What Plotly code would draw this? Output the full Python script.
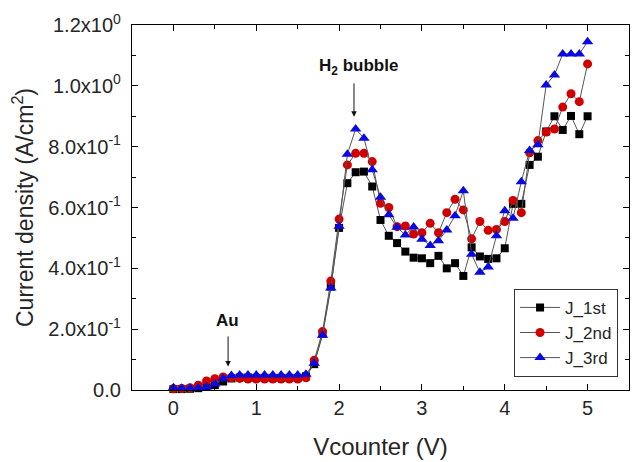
import plotly.graph_objects as go

# Counter-electrode voltage sweep, 0 to 5 V in 0.1 V steps
vcounter = [round(0.1 * i, 1) for i in range(51)]

j_1st = [0.003, 0.003, 0.004, 0.006, 0.010, 0.016, 0.028, 0.038, 0.041, 0.041,
         0.040, 0.040, 0.040, 0.040, 0.040, 0.040, 0.045, 0.085, 0.185, 0.340,
         0.533, 0.680, 0.716, 0.718, 0.669, 0.559, 0.507, 0.483, 0.455, 0.435,
         0.433, 0.417, 0.441, 0.400, 0.417, 0.375, 0.469, 0.439, 0.431, 0.433,
         0.466, 0.612, 0.612, 0.740, 0.767, 0.850, 0.900, 0.855, 0.901, 0.841,
         0.900]

j_2nd = [0.004, 0.005, 0.007, 0.016, 0.030, 0.037, 0.043, 0.040, 0.038, 0.036,
         0.036, 0.036, 0.036, 0.036, 0.036, 0.036, 0.040, 0.098, 0.192, 0.358,
         0.562, 0.740, 0.778, 0.778, 0.751, 0.614, 0.600, 0.537, 0.539, 0.513,
         0.517, 0.548, 0.517, 0.583, 0.627, 0.592, 0.497, 0.554, 0.525, 0.528,
         0.554, 0.623, 0.583, 0.780, 0.820, 0.848, 0.858, 0.930, 0.974, 0.948,
         1.072]

j_3rd = [0.007, 0.006, 0.006, 0.007, 0.010, 0.020, 0.038, 0.048, 0.049, 0.049,
         0.049, 0.049, 0.049, 0.049, 0.049, 0.049, 0.052, 0.088, 0.180, 0.335,
         0.538, 0.775, 0.858, 0.828, 0.724, 0.634, 0.576, 0.535, 0.510, 0.536,
         0.496, 0.475, 0.491, 0.526, 0.573, 0.655, 0.446, 0.387, 0.404, 0.507,
         0.589, 0.565, 0.685, 0.787, 0.806, 1.003, 1.036, 1.105, 1.105, 1.105,
         1.145]

y_tickvals = [0.0, 0.2, 0.4, 0.6, 0.8, 1.0, 1.2]
y_ticktext = ["0.0", "2.0x10<sup>-1</sup>", "4.0x10<sup>-1</sup>", "6.0x10<sup>-1</sup>",
              "8.0x10<sup>-1</sup>", "1.0x10<sup>0</sup>", "1.2x10<sup>0</sup>"]

FONT = "Liberation Sans, Arial, sans-serif"
TEXT = "#262626"

series = [
    ("J_1st", j_1st, "square", "#000000", 8),
    ("J_2nd", j_2nd, "circle", "#d10000", 9),
    ("J_3rd", j_3rd, "triangle-up", "#0a0ae0", 10),
]

fig = go.Figure()
for name, vals, symbol, color, size in series:
    fig.add_trace(go.Scatter(
        x=vcounter, y=vals, name=name, mode="lines+markers",
        line=dict(color="#555555", width=1),
        marker=dict(symbol=symbol, color=color, size=size, line=dict(width=0)),
        cliponaxis=False,
    ))

axis_common = dict(
    showline=True, linecolor="#000000", linewidth=1.3, mirror="ticks",
    ticks="inside", ticklen=6, tickwidth=1.2, tickcolor="#000000",
    showgrid=False, zeroline=False,
    tickfont=dict(family=FONT, size=20, color=TEXT),
)

fig.update_xaxes(
    range=[-0.5, 5.5], tickmode="linear", tick0=0, dtick=1,
    minor=dict(ticks="inside", ticklen=4, tickcolor="#000000", tick0=0, dtick=0.5),
    title=dict(text="Vcounter (V)", font=dict(family=FONT, size=24, color=TEXT),
               standoff=20),
    **axis_common,
)
fig.update_yaxes(
    range=[0, 1.2], tickmode="array", tickvals=y_tickvals, ticktext=y_ticktext,
    ticklabelstandoff=6,
    minor=dict(ticks="inside", ticklen=4, tickcolor="#000000", tickmode="linear",
               tick0=0, dtick=0.1),
    title=dict(text="Current density (A/cm<sup>2</sup>)",
               font=dict(family=FONT, size=23, color=TEXT), standoff=8),
    **axis_common,
)

# Labelled features with downward arrows
fig.add_annotation(x=2.18, y=0.898, ax=2.18, ay=1.013, axref="x", ayref="y",
                   text="", showarrow=True, arrowhead=2, arrowsize=1.1,
                   arrowwidth=1, arrowcolor="#111111")
fig.add_annotation(x=2.24, y=1.062, text="<b>H<sub>2</sub> bubble</b>", showarrow=False,
                   font=dict(family=FONT, size=17, color="#111111"))
fig.add_annotation(x=0.66, y=0.077, ax=0.66, ay=0.181, axref="x", ayref="y",
                   text="", showarrow=True, arrowhead=2, arrowsize=1.1,
                   arrowwidth=1, arrowcolor="#111111")
fig.add_annotation(x=0.655, y=0.228, text="<b>Au</b>", showarrow=False,
                   font=dict(family=FONT, size=17, color="#111111"))

fig.update_layout(
    width=634, height=462,
    margin=dict(l=132, r=5, t=25, b=72),
    paper_bgcolor="#ffffff", plot_bgcolor="#ffffff",
    showlegend=True,
    legend=dict(x=0.978, y=0.036, xanchor="right", yanchor="bottom",
                bgcolor="#ffffff", bordercolor="#333333", borderwidth=1,
                font=dict(family=FONT, size=17, color=TEXT),
                tracegroupgap=0, itemwidth=40),
)

fig.write_html("out.html")
